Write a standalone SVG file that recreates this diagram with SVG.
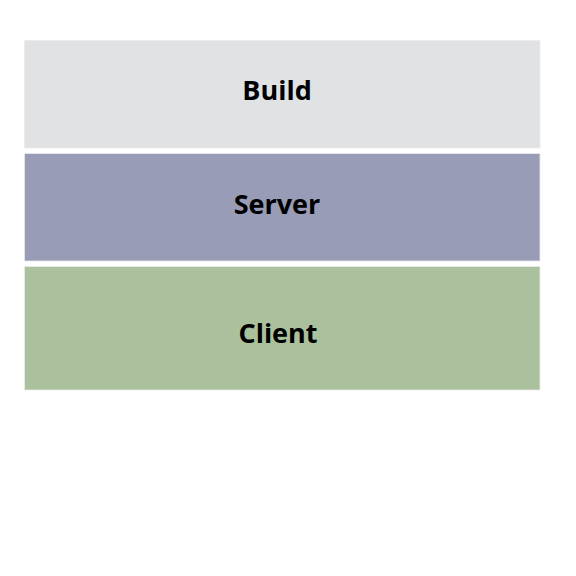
<svg xmlns="http://www.w3.org/2000/svg" width="576" height="576" viewBox="0 0 576 576">
<style>
.layer{stroke:#ececec;stroke-width:0.8}
.lbl{font-family:"Open Sans","Liberation Sans",sans-serif;font-weight:bold;font-size:27px;fill:#000;text-anchor:middle}
</style>
<rect width="576" height="576" fill="#fff"/>
<g id="build">
<rect class="layer" x="24.5" y="40.5" width="515.5" height="107.5" fill="#e1e2e4"/>
<text class="lbl" x="277" y="99.5">Build</text>
</g>
<g id="server">
<rect class="layer" x="24.5" y="153.5" width="515.5" height="107.5" fill="#989cb6"/>
<text class="lbl" x="277" y="213.5">Server</text>
</g>
<g id="client">
<rect class="layer" x="24.5" y="266.5" width="515.5" height="123.5" fill="#abc09c"/>
<text class="lbl" x="278" y="342.5">Client</text>
</g>
<g id="connectors"/>
</svg>
